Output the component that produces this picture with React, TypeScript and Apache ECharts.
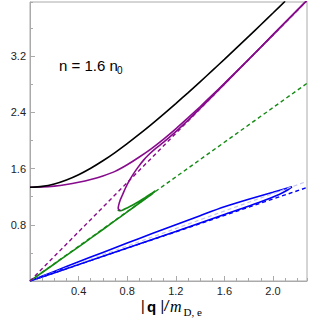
import React, { useEffect, useRef } from "react";
import * as echarts from "echarts";

// Data (x = |q|/m_D,e, y = frequency)
const blackCurve: number[][] = [
  [0, 1.334], [0.1, 1.346], [0.2, 1.381], [0.3, 1.438], [0.4, 1.513], [0.5, 1.605],
  [0.6, 1.711], [0.7, 1.828], [0.8, 1.955], [0.9, 2.089], [1.0, 2.229], [1.1, 2.375],
  [1.2, 2.525], [1.3, 2.678], [1.4, 2.834], [1.5, 2.993], [1.6, 3.154], [1.7, 3.317],
  [1.8, 3.481], [1.9, 3.646], [2.0, 3.813], [2.1, 3.981],
];

const purpleUpper: number[][] = [
  [0, 1.334], [0.1, 1.337], [0.2, 1.35], [0.3, 1.373], [0.4, 1.405], [0.5, 1.445],
  [0.6, 1.495], [0.7, 1.56], [0.8, 1.655], [0.9, 1.765], [1.0, 1.885], [1.1, 2.02],
  [1.2, 2.165], [1.3, 2.32], [1.4, 2.48], [1.5, 2.645], [1.6, 2.812], [1.8, 3.155],
  [2.0, 3.505], [2.2, 3.855], [2.28, 3.995],
];

const purpleLower: number[][] = [
  [0.745, 1.008], [0.732, 1.015], [0.726, 1.035], [0.73, 1.08], [0.742, 1.15], [0.76, 1.22],
  [0.785, 1.32], [0.815, 1.42], [0.85, 1.52], [0.89, 1.62], [0.935, 1.72], [0.985, 1.81],
  [1.04, 1.895], [1.1, 1.975], [1.2, 2.125], [1.3, 2.285], [1.4, 2.455], [1.5, 2.628],
  [1.6, 2.802], [1.8, 3.152], [2.0, 3.502], [2.28, 3.992],
];

const purpleDashed: number[][] = [[0, 0], [2.28, 3.99]];

const greenLoop: number[][] = [
  [0.722, 1.012], [0.735, 1.0], [0.76, 1.008], [0.8, 1.04], [0.85, 1.085], [0.9, 1.135],
  [0.95, 1.19], [1.0, 1.245], [1.025, 1.275], [1.032, 1.282], [1.02, 1.262], [1.0, 1.232],
  [0.9, 1.108], [0.8, 0.983], [0.7, 0.858], [0.6, 0.733], [0.5, 0.609], [0.4, 0.486],
  [0.3, 0.364], [0.2, 0.242], [0.1, 0.121], [0, 0],
];

const greenDashed: number[][] = [[0, 0], [2.28, 2.813]];

const blueLoop: number[][] = [
  [0, 0], [0.2, 0.137], [0.4, 0.273], [0.6, 0.407], [0.8, 0.54], [1.0, 0.672],
  [1.2, 0.802], [1.4, 0.93], [1.6, 1.055], [1.8, 1.163], [2.0, 1.262], [2.1, 1.312],
  [2.156, 1.34], [2.12, 1.295], [2.05, 1.232], [1.9, 1.128], [1.6, 0.946], [1.2, 0.705],
  [0.8, 0.468], [0.4, 0.234], [0, 0],
];

const blueDashed: number[][] = [[0, 0], [2.28, 1.33]];
const lightDashed: number[][] = [[0, 0], [2.28, 1.418]];

const X_MAX = 2.28;
const Y_MAX = 3.97;

const PURPLE = "#870b8c";
const GREEN = "#138a13";
const BLUE = "#0000ff";
const AXIS = "#aaaaaa";
const FONT = "'Liberation Sans', Arial, sans-serif";
const SERIF = "'Liberation Serif', 'Times New Roman', serif";

function fmt(v: number) {
  if (Math.abs(v) < 1e-9) return "";
  return v.toFixed(1);
}

export default function App() {
  const ref = useRef<HTMLDivElement>(null);
  useEffect(() => {
    if (!ref.current) return;
    const chart = echarts.init(ref.current, undefined, { renderer: "svg" });
    const solid = (data: number[][], color: string, z = 3) => ({
      type: "line",
      data,
      showSymbol: false,
      smooth: 0.25,
      lineStyle: { color, width: 1.6 },
      z,
      silent: true,
    });
    const dashed = (data: number[][], color: string, width = 1.4) => ({
      type: "line",
      data,
      showSymbol: false,
      lineStyle: { color, width, type: [4, 3] },
      z: 4,
      silent: true,
    });
    chart.setOption({
      animation: false,
      grid: {
        show: true,
        left: 30,
        right: 4,
        top: 2,
        bottom: 39,
        borderColor: AXIS,
        borderWidth: 1,
        containLabel: false,
      },
      xAxis: [
        {
          type: "value",
          min: 0,
          max: X_MAX,
          interval: 0.4,
          position: "bottom",
          axisLine: { show: true, lineStyle: { color: AXIS } },
          axisTick: { show: true, inside: true, length: 5, lineStyle: { color: AXIS } },
          axisLabel: {
            formatter: fmt,
            showMaxLabel: false,
            margin: 4,
            color: "#222",
            fontSize: 11,
            fontFamily: FONT,
          },
          splitLine: { show: false },
        },
        {
          type: "value",
          min: 0,
          max: X_MAX,
          interval: 0.1,
          position: "bottom",
          axisLine: { show: false },
          axisTick: { show: true, inside: true, length: 3, lineStyle: { color: AXIS } },
          axisLabel: { show: false },
          splitLine: { show: false },
        },
      ],
      yAxis: [
        {
          type: "value",
          min: 0,
          max: Y_MAX,
          interval: 0.8,
          position: "left",
          axisLine: { show: true, lineStyle: { color: AXIS } },
          axisTick: { show: true, inside: true, length: 5, lineStyle: { color: AXIS } },
          axisLabel: {
            formatter: fmt,
            showMaxLabel: false,
            margin: 4,
            color: "#222",
            fontSize: 11,
            fontFamily: FONT,
          },
          splitLine: { show: false },
        },
        {
          type: "value",
          min: 0,
          max: Y_MAX,
          interval: 0.4,
          position: "left",
          axisLine: { show: false },
          axisTick: { show: true, inside: true, length: 3, lineStyle: { color: AXIS } },
          axisLabel: { show: false },
          splitLine: { show: false },
        },
      ],
      series: [
        dashed(lightDashed, "#c4c4f2", 1.2),
        dashed(blueDashed, BLUE),
        dashed(greenDashed, GREEN),
        dashed(purpleDashed, PURPLE),
        solid(blueLoop, BLUE),
        solid(greenLoop, GREEN),
        solid(purpleUpper, PURPLE),
        solid(purpleLower, PURPLE),
        solid(blackCurve, "#000000"),
      ],
      graphic: [
        {
          type: "text",
          x: 59,
          y: 65,
          style: { text: "n = 1.6 n", font: `15px ${FONT}`, fill: "#000", verticalAlign: "middle" },
        },
        {
          type: "text",
          x: 117,
          y: 70,
          style: { text: "0", font: `10px ${FONT}`, fill: "#000", verticalAlign: "middle" },
        },
        {
          type: "text",
          x: 141,
          y: 306,
          style: { text: "|", font: `14px ${FONT}`, fill: "#000", verticalAlign: "middle" },
        },
        {
          type: "text",
          x: 147,
          y: 306,
          style: { text: "q", font: `bold 15px ${FONT}`, fill: "#000", verticalAlign: "middle" },
        },
        {
          type: "text",
          x: 160.5,
          y: 306,
          style: { text: "|", font: `14px ${FONT}`, fill: "#000", verticalAlign: "middle" },
        },
        {
          type: "text",
          x: 164.5,
          y: 306,
          style: { text: "/", font: `italic 14px ${FONT}`, fill: "#000", verticalAlign: "middle" },
        },
        {
          type: "text",
          x: 170,
          y: 306,
          style: { text: "m", font: `italic 16px ${SERIF}`, fill: "#000", verticalAlign: "middle" },
        },
        {
          type: "text",
          x: 183.5,
          y: 312,
          style: { text: "D, e", font: `11px ${SERIF}`, fill: "#000", verticalAlign: "middle" },
        },
      ],
    });
    return () => chart.dispose();
  }, []);
  return (
    <div
      ref={ref}
      style={{ position: "fixed", left: 0, top: 0, width: 311, height: 320, background: "#fff" }}
    />
  );
}
